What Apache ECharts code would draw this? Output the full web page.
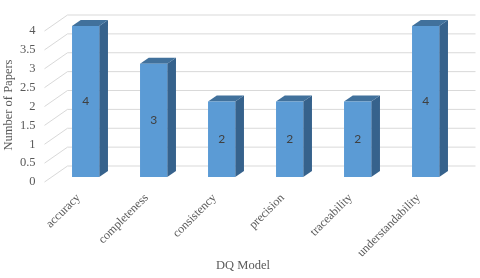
<!DOCTYPE html>
<html><head><meta charset="utf-8">
<script src="https://cdn.jsdelivr.net/npm/echarts@6/dist/echarts.min.js"></script>
<style>html,body{margin:0;padding:0;background:#fff}#c{width:480px;height:278px}</style>
</head><body><div id="c"></div>
<script>
const categories = ['accuracy', 'completeness', 'consistency', 'precision', 'traceability', 'understandability'];
const paperCounts = [4, 3, 2, 2, 2, 4];
const yTicks = [0, 0.5, 1, 1.5, 2, 2.5, 3, 3.5, 4];
const xAxisTitle = 'DQ Model';
const yAxisTitle = 'Number of Papers';

const DX = 23, DY = -16;          // depth vector of the 3D box
const F0 = 0.31, F1 = 0.69;       // bar depth placement
const serif = 'Liberation Serif, Times New Roman, serif';

const chart = echarts.init(document.getElementById('c'), null, {renderer: 'canvas'});

function renderWall(params, api) {
  const cs = params.coordSys;
  const y = api.coord([0, api.value(1)])[1];
  const style = {stroke: '#d9d9d9', lineWidth: 1};
  return {
    type: 'group',
    children: [
      {type: 'line', shape: {x1: cs.x + DX, y1: y + DY, x2: cs.x + cs.width + DX, y2: y + DY}, style},
      {type: 'line', shape: {x1: cs.x, y1: y, x2: cs.x + DX, y2: y + DY}, style}
    ]
  };
}

function renderBar(params, api) {
  const i = api.value(0), v = api.value(1);
  const base = api.coord([i, 0]), top = api.coord([i, v]);
  const band = api.size([1, 0])[0];
  const w = band * 0.4;
  const ox = DX * F0, oy = DY * F0;
  const bx = DX * (F1 - F0), by = DY * (F1 - F0);
  const xl = base[0] - w / 2 + ox, xr = base[0] + w / 2 + ox;
  const yb = base[1] + oy, yt = top[1] + oy;
  return {
    type: 'group',
    children: [
      {type: 'polygon', shape: {points: [[xr, yt], [xr + bx, yt + by], [xr + bx, yb + by], [xr, yb]]},
        style: {fill: '#36628c'}},
      {type: 'polygon', shape: {points: [[xl, yt], [xr, yt], [xr + bx, yt + by], [xl + bx, yt + by]]},
        style: {fill: '#41719c'}},
      {type: 'rect', shape: {x: xl, y: yt, width: w, height: yb - yt},
        style: {fill: '#5b9bd5'}},
      {type: 'text', x: xl + w / 2, y: (yt + yb) / 2,
        style: {text: String(v), fill: '#404040', font: '12px Lato, "Liberation Sans", sans-serif',
          align: 'center', verticalAlign: 'middle'}}
    ]
  };
}

chart.setOption({
  animation: false,
  backgroundColor: '#fff',
  grid: {left: 44.5, right: 27.5, top: 31, bottom: 96, containLabel: false, outerBoundsMode: 'none'},
  xAxis: {
    type: 'category', data: categories,
    axisLine: {show: false}, axisTick: {show: false},
    axisLabel: {rotate: 45, margin: 14, color: '#595959', fontFamily: serif, fontSize: 12, interval: 0}
  },
  yAxis: {
    type: 'value', min: 0, max: 4, interval: 0.5,
    axisLine: {show: false}, axisTick: {show: false}, splitLine: {show: false},
    axisLabel: {margin: 9, color: '#595959', fontFamily: serif, fontSize: 12.5}
  },
  graphic: [
    {type: 'text', x: 9, y: 105, rotation: Math.PI / 2,
      style: {text: yAxisTitle, fill: '#595959', font: '12.5px ' + serif, align: 'center', verticalAlign: 'middle'}},
    {type: 'text', x: 243, y: 266,
      style: {text: xAxisTitle, fill: '#595959', font: '12.5px ' + serif, align: 'center', verticalAlign: 'middle'}}
  ],
  series: [
    {type: 'custom', renderItem: renderWall, data: yTicks.map(t => [0, t]), z: 1, silent: true},
    {type: 'custom', renderItem: renderBar, data: paperCounts.map((v, i) => [i, v]), z: 2}
  ]
});
</script>
</body></html>
